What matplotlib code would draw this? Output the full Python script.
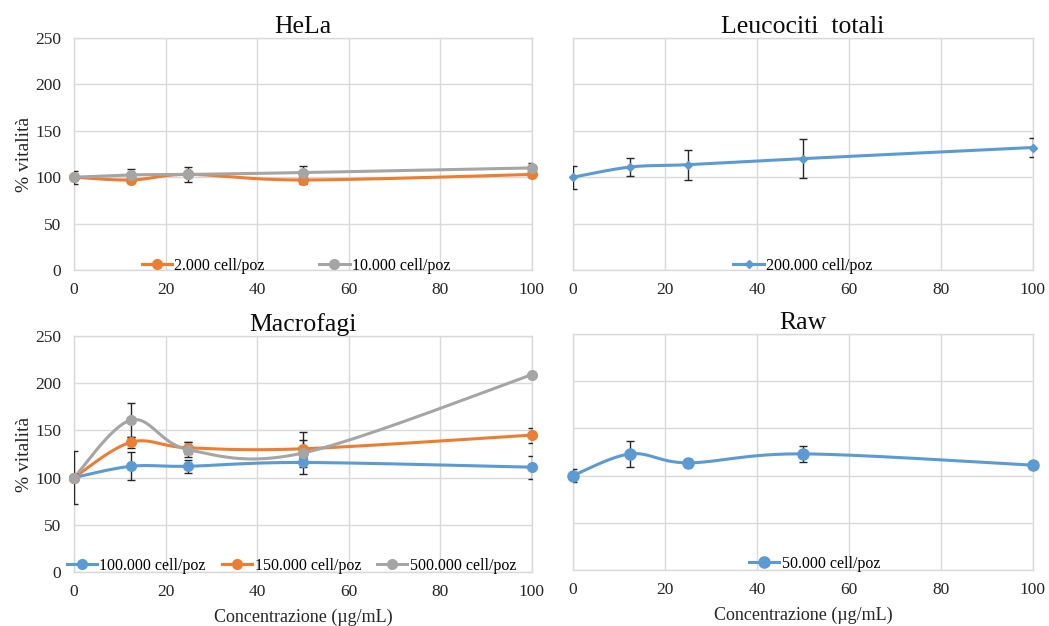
import numpy as np
import matplotlib
matplotlib.use("Agg")
import matplotlib.pyplot as plt
from matplotlib.lines import Line2D

plt.rcParams['font.family'] = ['Liberation Serif', 'DejaVu Serif']

# Concentrations (µg/mL)
conc = [0, 12.5, 25, 50, 100]

# HeLa
hela_2k = [100, 97, 103, 97, 103]
hela_2k_err = [3, 3, 3, 4, 3]
hela_10k = [100, 102.5, 103, 105, 110]
hela_10k_err = [7, 6, 8, 7, 5]

# Leucociti totali
leuco_200k = [100, 111, 113.5, 120, 132]
leuco_200k_err = [12.5, 10, 16, 21, 10]

# Macrofagi
macro_100k = [100, 112, 112, 116, 111]
macro_100k_err = [4, 15, 7, 5, 12]
macro_150k = [100, 137.5, 131.5, 130.5, 145]
macro_150k_err = [4, 6, 6, 9, 8]
macro_500k = [100, 161, 129.5, 126, 209]
macro_500k_err = [28, 18, 8, 22, 2]

# Raw
raw_50k = [100, 123, 113.5, 123, 111]
raw_50k_err = [7, 13.5, 4, 8.5, 3]

BLUE = '#5B9BD5'
ORANGE = '#ED7D31'
GRAY = '#A5A5A5'
GRID = '#D9D9D9'
ERR = '#262626'
TEXT = '#262626'


def smooth_curve(x, y, n=40):
    """Catmull-Rom style Bezier smoothing through every point."""
    p = np.column_stack([x, y]).astype(float)
    ext = np.vstack([p[0], p, p[-1]])
    out = []
    t = np.linspace(0, 1, n)[:, None]
    for i in range(len(p) - 1):
        p0, p1, p2, p3 = ext[i], ext[i + 1], ext[i + 2], ext[i + 3]
        c1 = p1 + (p2 - p0) / 6.0
        c2 = p2 - (p3 - p1) / 6.0
        seg = ((1 - t) ** 3) * p1 + 3 * ((1 - t) ** 2) * t * c1 \
            + 3 * (1 - t) * t ** 2 * c2 + t ** 3 * p2
        out.append(seg if i == 0 else seg[1:])
    seg = np.vstack(out)
    return seg[:, 0], seg[:, 1]


def draw_series(ax, y, err, color, marker, ms, label):
    sx, sy = smooth_curve(conc, y)
    ax.plot(sx, sy, color=color, lw=2.2, zorder=3, solid_capstyle='round')
    ax.errorbar(conc, y, yerr=err, fmt='none', ecolor=ERR, elinewidth=1.0,
                capsize=3, capthick=1.0, zorder=4)
    ax.plot(conc, y, linestyle='none', marker=marker, ms=ms, color=color,
            zorder=5, clip_on=False)
    return Line2D([], [], color=color, lw=2.2, marker=marker, ms=ms,
                  label=label)


def style_axes(ax, title, show_ylabels, xlabel=False):
    ax.set_xlim(0, 100)
    ax.set_ylim(0, 250)
    ax.set_xticks([0, 20, 40, 60, 80, 100])
    ax.set_yticks([0, 50, 100, 150, 200, 250])
    ax.grid(True, color=GRID, lw=1.0)
    ax.set_axisbelow(True)
    for s in ax.spines.values():
        s.set_color(GRID)
        s.set_linewidth(1.0)
    ax.tick_params(length=0, labelsize=12.5, colors=TEXT, pad=9)
    if not show_ylabels:
        ax.tick_params(labelleft=False)
    else:
        ax.set_ylabel('% vitalità', fontsize=14, color=TEXT, labelpad=2)
    if xlabel:
        ax.set_xlabel('Concentrazione (µg/mL)', fontsize=13,
                      color=TEXT, labelpad=6)
    ax.set_title(title, fontsize=18.5, color='#0d0d0d', pad=3)


def add_legend(ax, handles, anchor_x=0.5, anchor_y=-0.045, colsp=1.3):
    ax.legend(handles=handles, loc='lower center',
              bbox_to_anchor=(anchor_x, anchor_y),
              ncol=len(handles), frameon=False, fontsize=11.5,
              handlelength=1.9, handletextpad=0.15, columnspacing=colsp,
              borderaxespad=0.0)


fig = plt.figure(figsize=(10.49, 6.26), dpi=100)
ax1 = fig.add_axes([0.0705, 0.5687, 0.4366, 0.3706])
ax2 = fig.add_axes([0.5462, 0.5687, 0.4385, 0.3706])
ax3 = fig.add_axes([0.0705, 0.0863, 0.4366, 0.3770])
ax4 = fig.add_axes([0.5462, 0.0895, 0.4385, 0.3770])

# HeLa
h = [draw_series(ax1, hela_2k, hela_2k_err, ORANGE, 'o', 7, '2.000 cell/poz'),
     draw_series(ax1, hela_10k, hela_10k_err, GRAY, 'o', 7, '10.000 cell/poz')]
style_axes(ax1, 'HeLa', True)
add_legend(ax1, h, anchor_x=0.485, colsp=3.4)

# Leucociti totali
h = [draw_series(ax2, leuco_200k, leuco_200k_err, BLUE, 'D', 4.5,
                 '200.000 cell/poz')]
style_axes(ax2, 'Leucociti  totali', False)
add_legend(ax2, h)

# Macrofagi
h = [draw_series(ax3, macro_100k, macro_100k_err, BLUE, 'o', 7, '100.000 cell/poz'),
     draw_series(ax3, macro_150k, macro_150k_err, ORANGE, 'o', 7, '150.000 cell/poz'),
     draw_series(ax3, macro_500k, macro_500k_err, GRAY, 'o', 7, '500.000 cell/poz')]
style_axes(ax3, 'Macrofagi', True, xlabel=True)
add_legend(ax3, h, anchor_x=0.475, anchor_y=-0.035, colsp=1.0)

# Raw
h = [draw_series(ax4, raw_50k, raw_50k_err, BLUE, 'o', 8, '50.000 cell/poz')]
style_axes(ax4, 'Raw', False, xlabel=True)
add_legend(ax4, h, anchor_x=0.525, anchor_y=-0.035)

fig.savefig('out.png', dpi=100, facecolor='white')
